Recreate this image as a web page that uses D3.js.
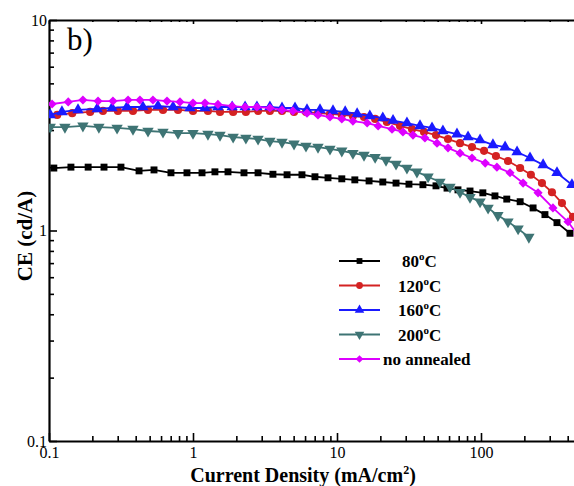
<!DOCTYPE html>
<html>
<head>
<meta charset="utf-8">
<script src="https://cdn.jsdelivr.net/npm/d3@7"></script>
<style>
  body { margin: 0; background: #fff; }
  text { font-family: "Liberation Serif", "Times New Roman", serif; }
</style>
</head>
<body>
<div id="chart"></div>
<script>
// current density (mA/cm2) and CE (cd/A)
const jd80 = [0.108, 0.142, 0.187, 0.241, 0.316, 0.422, 0.536, 0.703, 0.908, 1.155, 1.42, 1.75, 2.26, 2.83, 3.59, 4.50, 5.71, 7.03, 8.66, 10.8, 13.3, 16.7, 20.8, 25.7, 31.6, 39.5, 48.7, 58.1, 69.2, 83.9, 103, 125, 151, 187, 230, 278, 337, 415];
const ce80 = [1.98, 2.00, 2.00, 2.00, 2.00, 1.92, 1.94, 1.88, 1.88, 1.88, 1.90, 1.90, 1.88, 1.88, 1.85, 1.84, 1.84, 1.80, 1.78, 1.76, 1.74, 1.72, 1.70, 1.68, 1.66, 1.65, 1.63, 1.59, 1.56, 1.54, 1.51, 1.46, 1.41, 1.37, 1.28, 1.19, 1.09, 0.97];

const jd120 = [0.114, 0.145, 0.193, 0.237, 0.301, 0.383, 0.487, 0.619, 0.787, 1.0, 1.27, 1.54, 1.90, 2.33, 2.83, 3.42, 4.15, 5.03, 6.09, 7.38, 8.94, 10.8, 12.9, 15.4, 18.4, 22.2, 27.4, 33.2, 40.2, 48.7, 59.0, 71.5, 86.6, 105, 127, 154, 187, 222, 265, 311, 365, 435];
const ce120 = [3.54, 3.61, 3.66, 3.70, 3.70, 3.70, 3.74, 3.74, 3.74, 3.70, 3.70, 3.66, 3.66, 3.66, 3.70, 3.70, 3.70, 3.66, 3.66, 3.61, 3.58, 3.54, 3.50, 3.46, 3.39, 3.28, 3.14, 3.03, 2.94, 2.84, 2.72, 2.60, 2.49, 2.39, 2.26, 2.14, 1.98, 1.84, 1.68, 1.52, 1.35, 1.16];

const jd160 = [0.102, 0.123, 0.159, 0.216, 0.274, 0.348, 0.449, 0.571, 0.727, 0.953, 1.21, 1.49, 1.87, 2.30, 2.78, 3.42, 4.15, 5.11, 6.19, 7.62, 9.38, 11.4, 13.8, 16.9, 20.8, 24.5, 30.6, 37.7, 45.7, 54.4, 68.1, 81.3, 98.5, 121, 147, 178, 219, 270, 337, 428];
const ce160 = [3.54, 3.66, 3.74, 3.78, 3.82, 3.86, 3.86, 3.90, 3.86, 3.82, 3.82, 3.86, 3.86, 3.86, 3.86, 3.86, 3.82, 3.82, 3.74, 3.74, 3.70, 3.66, 3.58, 3.50, 3.42, 3.33, 3.24, 3.14, 3.07, 2.97, 2.87, 2.78, 2.69, 2.55, 2.49, 2.36, 2.21, 2.05, 1.88, 1.65];

const jd200 = [0.102, 0.129, 0.172, 0.222, 0.297, 0.383, 0.487, 0.619, 0.787, 1.0, 1.27, 1.54, 1.90, 2.33, 2.83, 3.42, 4.15, 5.03, 6.09, 7.38, 8.94, 10.8, 12.9, 15.4, 18.4, 21.9, 25.7, 30.6, 35.9, 42.9, 51.9, 60.9, 71.5, 83.9, 98.5, 112, 131, 154, 181, 215];
const ce200 = [3.10, 3.10, 3.14, 3.10, 3.07, 3.03, 2.97, 2.94, 2.90, 2.90, 2.87, 2.84, 2.78, 2.75, 2.72, 2.66, 2.63, 2.58, 2.52, 2.49, 2.44, 2.39, 2.33, 2.28, 2.23, 2.16, 2.07, 1.98, 1.90, 1.80, 1.70, 1.61, 1.52, 1.44, 1.37, 1.28, 1.18, 1.10, 1.02, 0.93];

const jdNo = [0.105, 0.136, 0.172, 0.219, 0.278, 0.354, 0.428, 0.527, 0.660, 0.812, 1.0, 1.21, 1.49, 1.87, 2.30, 2.78, 3.42, 4.15, 4.94, 6.19, 7.38, 8.94, 10.8, 12.9, 16.2, 19.3, 24.1, 28.7, 33.7, 40.8, 49.5, 59.0, 71.5, 86.6, 107, 129, 159, 196, 249, 316, 402, 470];
const ceNo = [3.99, 4.08, 4.17, 4.12, 4.12, 4.17, 4.17, 4.17, 4.12, 4.08, 4.03, 4.03, 3.97, 3.90, 3.86, 3.86, 3.82, 3.74, 3.70, 3.61, 3.54, 3.46, 3.39, 3.31, 3.24, 3.14, 3.03, 2.94, 2.84, 2.75, 2.60, 2.47, 2.33, 2.21, 2.09, 2.00, 1.88, 1.68, 1.51, 1.28, 1.10, 0.95];

const legendTemps = ['80', '120', '160', '200', null];
const legendNames = ['', '', '', '', 'no annealed'];
const xTicks = [0.1, 1, 10, 100, 1000];
const xTickLabels = ['0.1', '1', '10', '100', ''];  // 1000 falls outside the cropped picture
const yTicks = [0.1, 1, 10];
const yTickLabels = ['0.1', '1', '10'];

const width = 574;
const height = 486;
const plot = { left: 49, top: 20, bottom: 441 };

const series = [
  { xs: jd80, ys: ce80, color: '#000000', symbol: d3.symbolSquare, size: 48, rot: 0 },
  { xs: jd120, ys: ce120, color: '#d42222', symbol: d3.symbolCircle, size: 52, rot: 0 },
  { xs: jd160, ys: ce160, color: '#1a1aff', symbol: d3.symbolTriangle, size: 56, rot: 0 },
  { xs: jd200, ys: ce200, color: '#3e7474', symbol: d3.symbolTriangle, size: 56, rot: 180 },
  { xs: jdNo, ys: ceNo, color: '#dd00ff', symbol: d3.symbolSquare, size: 42, rot: 45 }
];

const svg = d3.select('#chart')
  .append('svg')
  .attr('width', width)
  .attr('height', height);

// log axes, the original ran to 1000 but the picture is cut at the right
const x = d3.scaleLog().domain([0.1, 1000]).range([plot.left, plot.left + 144 * 4]);
const y = d3.scaleLog().domain([0.1, 10]).range([plot.bottom, plot.top]);

svg.append('clipPath')
  .attr('id', 'clip')
  .append('rect')
  .attr('x', plot.left)
  .attr('y', plot.top - 10)
  .attr('width', width - plot.left)
  .attr('height', plot.bottom - plot.top + 10);

const minorX = x.ticks().filter(d => !xTicks.some(t => Math.abs(t - d) < 1e-9));
const minorY = y.ticks().filter(d => !yTicks.some(t => Math.abs(t - d) < 1e-9));

// bottom axis
svg.append('g')
  .attr('class', 'axis')
  .attr('transform', `translate(0,${plot.bottom})`)
  .call(d3.axisBottom(x).tickValues(xTicks).tickFormat((d, i) => xTickLabels[i])
    .tickSize(-8).tickSizeOuter(0).tickPadding(6));

svg.append('g')
  .attr('class', 'minor')
  .attr('transform', `translate(0,${plot.bottom})`)
  .call(d3.axisBottom(x).tickValues(minorX).tickFormat('').tickSize(-5).tickSizeOuter(0));

// top axis
svg.append('g')
  .attr('class', 'axis')
  .attr('transform', `translate(0,${plot.top})`)
  .call(d3.axisTop(x).tickValues(xTicks).tickFormat('').tickSize(-4).tickSizeOuter(0));

svg.append('g')
  .attr('class', 'minor')
  .attr('transform', `translate(0,${plot.top})`)
  .call(d3.axisTop(x).tickValues(minorX).tickFormat('').tickSize(-2).tickSizeOuter(0));

// left axis
svg.append('g')
  .attr('class', 'axis')
  .attr('transform', `translate(${plot.left},0)`)
  .call(d3.axisLeft(y).tickValues(yTicks).tickFormat((d, i) => yTickLabels[i])
    .tickSize(-8).tickSizeOuter(0).tickPadding(2));

svg.append('g')
  .attr('class', 'minor')
  .attr('transform', `translate(${plot.left},0)`)
  .call(d3.axisLeft(y).tickValues(minorY).tickFormat('').tickSize(-5).tickSizeOuter(0));

svg.selectAll('.axis path.domain')
  .attr('stroke', '#000')
  .attr('stroke-width', 2.2);
svg.selectAll('.minor path.domain').remove();
svg.selectAll('.axis .tick line, .minor .tick line')
  .attr('stroke', '#000')
  .attr('stroke-width', 1.6);
svg.selectAll('.axis .tick text')
  .attr('fill', '#000')
  .style('font-size', '16px')
  .style('font-family', '"Liberation Serif", "Times New Roman", serif');

// curves
const line = d3.line()
  .x(d => x(d[0]))
  .y(d => y(d[1]));

const curves = svg.append('g').attr('clip-path', 'url(#clip)');

series.forEach(s => {
  const pts = s.xs.map((v, i) => [v, s.ys[i]]);
  const g = curves.append('g');
  g.append('path')
    .datum(pts)
    .attr('fill', 'none')
    .attr('stroke', s.color)
    .attr('stroke-width', 1.8)
    .attr('d', line);
  g.selectAll('path.mark')
    .data(pts)
    .enter()
    .append('path')
    .attr('class', 'mark')
    .attr('d', d3.symbol().type(s.symbol).size(s.size))
    .attr('transform', d => `translate(${x(d[0])},${y(d[1])}) rotate(${s.rot})`)
    .attr('fill', s.color);
});

// legend
const legend = svg.append('g');
series.forEach((s, i) => {
  const cy = 261 + i * 24.5;
  legend.append('line')
    .attr('x1', 339).attr('x2', 380)
    .attr('y1', cy).attr('y2', cy)
    .attr('stroke', s.color)
    .attr('stroke-width', 2);
  legend.append('path')
    .attr('d', d3.symbol().type(s.symbol).size(s.size * 0.7))
    .attr('transform', `translate(359.5,${cy}) rotate(${s.rot})`)
    .attr('fill', s.color);
  const t = legend.append('text')
    .attr('y', cy + 6)
    .style('font-size', '17px')
    .style('font-weight', 'bold');
  if (legendTemps[i]) {
    t.attr('x', i === 0 ? 402 : 398);
    t.append('tspan').text(legendTemps[i]);
    t.append('tspan').attr('dy', -7).style('font-size', '11px').text('o');
    t.append('tspan').attr('dy', 7).text('C');
  } else {
    t.attr('x', 383).text(legendNames[i]);
  }
});

// panel label
svg.append('text')
  .attr('x', 67)
  .attr('y', 50)
  .style('font-size', '31px')
  .text('b)');

// axis titles
const xt = svg.append('text')
  .attr('x', 303)
  .attr('y', 482)
  .attr('text-anchor', 'middle')
  .style('font-size', '20px')
  .style('font-weight', 'bold');
xt.append('tspan').text('Current Density (mA/cm');
xt.append('tspan').attr('dy', -8).style('font-size', '12px').text('2');
xt.append('tspan').attr('dy', 8).text(')');

svg.append('text')
  .attr('transform', 'translate(32,236) rotate(-90)')
  .attr('text-anchor', 'middle')
  .style('font-size', '21px')
  .style('font-weight', 'bold')
  .text('CE (cd/A)');
</script>
</body>
</html>
